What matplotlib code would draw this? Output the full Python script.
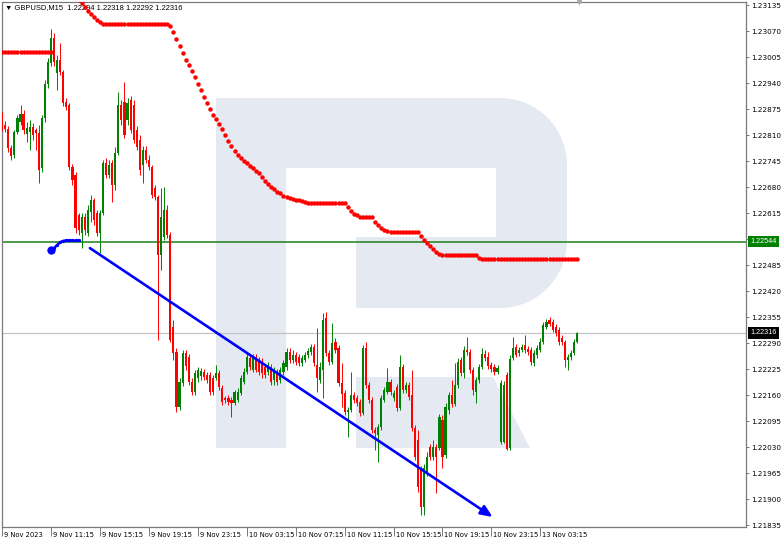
import matplotlib
matplotlib.use("Agg")
import matplotlib.pyplot as plt
import numpy as np
from matplotlib.path import Path
from matplotlib.patches import PathPatch, Polygon
import matplotlib.transforms as mtransforms

# ---------------- data ----------------
symbol = "GBPUSD,M15"

open_ = [
    1.22863, 1.22836, 1.22826, 1.22778, 1.22761, 1.22818, 1.22843, 1.22863, 1.22813, 1.22818,
    1.22831, 1.22823, 1.22816, 1.22728, 1.22853, 1.22938, 1.22991, 1.23053, 1.22966, 1.22998,
    1.22968, 1.22893, 1.22886, 1.22731, 1.22711, 1.22611, 1.22566, 1.22606, 1.22566, 1.22618,
    1.22648, 1.22616, 1.22566, 1.22616, 1.22741, 1.22711, 1.22741, 1.22686, 1.22766, 1.22886,
    1.22893, 1.22848, 1.22898, 1.22886, 1.22823, 1.22798, 1.22736, 1.22773, 1.22748, 1.22731,
    1.22678, 1.22656, 1.22511, 1.22556, 1.22623, 1.22561, 1.22331, 1.22268, 1.22131, 1.22191,
    1.22266, 1.22256, 1.22193, 1.22168, 1.22203, 1.22208, 1.22218, 1.22211, 1.22211, 1.22203,
    1.22203, 1.22216, 1.22178, 1.22153, 1.22153, 1.22148, 1.22141, 1.22148, 1.22166, 1.22193,
    1.22218, 1.22253, 1.22223, 1.22256, 1.22248, 1.22243, 1.22231, 1.22218, 1.22231, 1.22198,
    1.22218, 1.22198, 1.22218, 1.22231, 1.22268, 1.22248, 1.22261, 1.22256, 1.22241, 1.22248,
    1.22261, 1.22268, 1.22281, 1.22236, 1.22198, 1.22223, 1.22353, 1.22266, 1.22243, 1.22293,
    1.22278, 1.22191, 1.22166, 1.22118, 1.22123, 1.22161, 1.22153, 1.22143, 1.22116, 1.22278,
    1.22186, 1.22148, 1.22073, 1.22061, 1.22081, 1.22148, 1.22168, 1.22193, 1.22153, 1.22181,
    1.22128, 1.22231, 1.22173, 1.22186, 1.22161, 1.22078, 1.22048, 1.21973, 1.21881, 1.21966,
    1.22031, 1.22006, 1.22031, 1.22028, 1.22098, 1.22011, 1.22123, 1.22161, 1.22138, 1.22186,
    1.22248, 1.22216, 1.22273, 1.22268, 1.22223, 1.22168, 1.22198, 1.22231, 1.22263, 1.22256,
    1.22236, 1.22231, 1.22218, 1.22043, 1.22043, 1.22211, 1.22028, 1.22253, 1.22281, 1.22266,
    1.22273, 1.22286, 1.22276, 1.22273, 1.22241, 1.22261, 1.22273, 1.22293, 1.22331, 1.22348,
    1.22343, 1.22331, 1.22323, 1.22303, 1.22293, 1.22248, 1.22256, 1.22266, 1.22294,
]

high_ = [
    1.22868, 1.22846, 1.22833, 1.22786, 1.22823, 1.22861, 1.22886, 1.22873, 1.22843, 1.22848,
    1.22841, 1.22828, 1.22836, 1.22861, 1.22948, 1.23003, 1.23076, 1.23066, 1.23011, 1.23041,
    1.22973, 1.22903, 1.22891, 1.22738, 1.22718, 1.22616, 1.22616, 1.22616, 1.22636, 1.22661,
    1.22653, 1.22623, 1.22623, 1.22748, 1.22753, 1.22748, 1.22748, 1.22781, 1.22918, 1.22898,
    1.22943, 1.22903, 1.22908, 1.22898, 1.22833, 1.22811, 1.22783, 1.22783, 1.22761, 1.22736,
    1.22686, 1.22661, 1.22678, 1.22681, 1.22636, 1.22568, 1.22348, 1.22278, 1.22203, 1.22273,
    1.22273, 1.22263, 1.22203, 1.22223, 1.22231, 1.22228, 1.22226, 1.22218, 1.22218, 1.22211,
    1.22236, 1.22223, 1.22186, 1.22158, 1.22161, 1.22156, 1.22173, 1.22178, 1.22211, 1.22228,
    1.22268, 1.22261, 1.22263, 1.22263, 1.22256, 1.22253, 1.22238, 1.22243, 1.22238, 1.22231,
    1.22226, 1.22231, 1.22248, 1.22278, 1.22278, 1.22273, 1.22268, 1.22263, 1.22261, 1.22268,
    1.22278, 1.22288, 1.22288, 1.22328, 1.22243, 1.22366, 1.22368, 1.22273, 1.22341, 1.22303,
    1.22286, 1.22241, 1.22173, 1.22131, 1.22218, 1.22168, 1.22161, 1.22151, 1.22286, 1.22293,
    1.22193, 1.22156, 1.22081, 1.22088, 1.22161, 1.22181, 1.22228, 1.22201, 1.22173, 1.22188,
    1.22261, 1.22238, 1.22193, 1.22193, 1.22223, 1.22086, 1.22073, 1.21983, 1.21988, 1.22018,
    1.22038, 1.22048, 1.22038, 1.22113, 1.22111, 1.22141, 1.22168, 1.22198, 1.22241, 1.22253,
    1.22256, 1.22283, 1.22306, 1.22276, 1.22231, 1.22206, 1.22238, 1.22278, 1.22273, 1.22268,
    1.22243, 1.22238, 1.22236, 1.22198, 1.22196, 1.22218, 1.22261, 1.22306, 1.22288, 1.22281,
    1.22288, 1.22311, 1.22283, 1.22281, 1.22273, 1.22286, 1.22303, 1.22343, 1.22351, 1.22356,
    1.22351, 1.22338, 1.22331, 1.22311, 1.22298, 1.22263, 1.22273, 1.22301, 1.22318,
]

low_ = [
    1.22821, 1.22818, 1.22768, 1.22748, 1.22753, 1.22813, 1.22836, 1.22813, 1.22793, 1.22773,
    1.22798, 1.22773, 1.22691, 1.22718, 1.22843, 1.22928, 1.22983, 1.22983, 1.22923, 1.22961,
    1.22883, 1.22873, 1.22723, 1.22686, 1.22566, 1.22561, 1.22528, 1.22561, 1.22558, 1.22593,
    1.22586, 1.22558, 1.22516, 1.22611, 1.22703, 1.22703, 1.22643, 1.22673, 1.22761, 1.22836,
    1.22803, 1.22836, 1.22816, 1.22791, 1.22773, 1.22711, 1.22691, 1.22741, 1.22723, 1.22653,
    1.22648, 1.22298, 1.22473, 1.22548, 1.22553, 1.22293, 1.22248, 1.22118, 1.22123, 1.22183,
    1.22223, 1.22186, 1.22161, 1.22161, 1.22193, 1.22198, 1.22198, 1.22191, 1.22161, 1.22161,
    1.22198, 1.22173, 1.22136, 1.22141, 1.22136, 1.22106, 1.22136, 1.22143, 1.22161, 1.22188,
    1.22213, 1.22223, 1.22218, 1.22218, 1.22211, 1.22203, 1.22203, 1.22211, 1.22186, 1.22186,
    1.22186, 1.22191, 1.22211, 1.22223, 1.22241, 1.22241, 1.22236, 1.22233, 1.22233, 1.22243,
    1.22253, 1.22261, 1.22233, 1.22168, 1.22191, 1.22153, 1.22258, 1.22236, 1.22238, 1.22266,
    1.22183, 1.22131, 1.22111, 1.22056, 1.22118, 1.22141, 1.22133, 1.22108, 1.22111, 1.22178,
    1.22141, 1.22066, 1.22023, 1.21993, 1.22073, 1.22143, 1.22163, 1.22161, 1.22146, 1.22121,
    1.22123, 1.22166, 1.22166, 1.22148, 1.22071, 1.21998, 1.21918, 1.21861, 1.21861, 1.21958,
    1.21998, 1.21998, 1.21916, 1.22023, 1.21978, 1.22003, 1.22113, 1.22131, 1.22133, 1.22178,
    1.22208, 1.22203, 1.22261, 1.22216, 1.22161, 1.22141, 1.22191, 1.22226, 1.22246, 1.22226,
    1.22218, 1.22211, 1.22213, 1.22038, 1.22041, 1.22023, 1.22023, 1.22248, 1.22256, 1.22258,
    1.22268, 1.22266, 1.22261, 1.22236, 1.22233, 1.22253, 1.22268, 1.22288, 1.22326, 1.22333,
    1.22318, 1.22308, 1.22286, 1.22286, 1.22231, 1.22223, 1.22248, 1.22261, 1.22292,
]

close_ = [
    1.22828, 1.22826, 1.22778, 1.22758, 1.22818, 1.22853, 1.22863, 1.22823, 1.22828, 1.22831,
    1.22811, 1.22816, 1.22723, 1.22853, 1.22938, 1.22993, 1.23053, 1.22993, 1.22998, 1.22968,
    1.22891, 1.22881, 1.22731, 1.22698, 1.22578, 1.22573, 1.22606, 1.22573, 1.22623, 1.22648,
    1.22598, 1.22566, 1.22616, 1.22741, 1.22711, 1.22736, 1.22686, 1.22766, 1.22886, 1.22848,
    1.22811, 1.22891, 1.22823, 1.22798, 1.22781, 1.22723, 1.22773, 1.22748, 1.22731, 1.22661,
    1.22656, 1.22511, 1.22606, 1.22623, 1.22561, 1.22298, 1.22266, 1.22131, 1.22193, 1.22266,
    1.22233, 1.22193, 1.22168, 1.22216, 1.22223, 1.22221, 1.22206, 1.22198, 1.22168, 1.22168,
    1.22216, 1.22181, 1.22143, 1.22148, 1.22143, 1.22141, 1.22168, 1.22168, 1.22203, 1.22218,
    1.22256, 1.22231, 1.22256, 1.22223, 1.22218, 1.22216, 1.22211, 1.22236, 1.22193, 1.22223,
    1.22193, 1.22223, 1.22241, 1.22268, 1.22248, 1.22261, 1.22243, 1.22241, 1.22253, 1.22261,
    1.22271, 1.22281, 1.22241, 1.22203, 1.22231, 1.22348, 1.22266, 1.22243, 1.22291, 1.22273,
    1.22191, 1.22163, 1.22118, 1.22123, 1.22161, 1.22148, 1.22141, 1.22116, 1.22278, 1.22186,
    1.22148, 1.22073, 1.22066, 1.22081, 1.22153, 1.22173, 1.22193, 1.22168, 1.22166, 1.22128,
    1.22231, 1.22173, 1.22186, 1.22156, 1.22078, 1.22006, 1.21931, 1.21881, 1.21978, 1.22006,
    1.22006, 1.22031, 1.22006, 1.22106, 1.22006, 1.22131, 1.22161, 1.22138, 1.22186, 1.22243,
    1.22216, 1.22273, 1.22268, 1.22223, 1.22173, 1.22198, 1.22231, 1.22263, 1.22253, 1.22233,
    1.22226, 1.22218, 1.22228, 1.22191, 1.22186, 1.22026, 1.22251, 1.22278, 1.22261, 1.22273,
    1.22281, 1.22273, 1.22268, 1.22243, 1.22266, 1.22278, 1.22293, 1.22336, 1.22343, 1.22338,
    1.22323, 1.22316, 1.22293, 1.22293, 1.22248, 1.22256, 1.22266, 1.22293, 1.22316,
]

# red dotted indicator (one value per bar)
stop_dots = [
    1.23018, 1.23018, 1.23018, 1.23018, 1.23018, 1.23018, 1.23018, 1.23018, 1.23018, 1.23018,
    1.23018, 1.23018, 1.23018, 1.23018, 1.23018, 1.23018, 1.23018, 1.23260, 1.23243, 1.23225,
    1.23208, 1.23193, 1.23178, 1.23165, 1.23155, 1.23148, 1.23141, 1.23131, 1.23121, 1.23113,
    1.23106, 1.23098, 1.23093, 1.23088, 1.23088, 1.23088, 1.23088, 1.23088, 1.23088, 1.23088,
    1.23088, 1.23088, 1.23088, 1.23088, 1.23088, 1.23088, 1.23088, 1.23088, 1.23088, 1.23088,
    1.23088, 1.23088, 1.23088, 1.23088, 1.23088, 1.23083, 1.23068, 1.23051, 1.23033, 1.23016,
    1.22998, 1.22986, 1.22971, 1.22956, 1.22938, 1.22923, 1.22906, 1.22891, 1.22876, 1.22861,
    1.22851, 1.22838, 1.22826, 1.22811, 1.22796, 1.22783, 1.22771, 1.22761, 1.22753, 1.22746,
    1.22741, 1.22733, 1.22728, 1.22721, 1.22716, 1.22706, 1.22696, 1.22688, 1.22681, 1.22676,
    1.22668, 1.22666, 1.22658, 1.22656, 1.22653, 1.22651, 1.22648, 1.22648, 1.22646, 1.22643,
    1.22641, 1.22641, 1.22641, 1.22641, 1.22641, 1.22641, 1.22641, 1.22641, 1.22641, 1.22641,
    1.22641, 1.22641, 1.22641, 1.22631, 1.22621, 1.22613, 1.22611, 1.22606, 1.22606, 1.22606,
    1.22606, 1.22606, 1.22593, 1.22586, 1.22578, 1.22573, 1.22571, 1.22568, 1.22568, 1.22568,
    1.22568, 1.22568, 1.22568, 1.22568, 1.22568, 1.22568, 1.22568, 1.22558, 1.22548, 1.22541,
    1.22533, 1.22526, 1.22518, 1.22513, 1.22511, 1.22511, 1.22511, 1.22511, 1.22511, 1.22511,
    1.22511, 1.22511, 1.22511, 1.22511, 1.22511, 1.22511, 1.22503, 1.22501, 1.22501, 1.22501,
    1.22501, 1.22501, 1.22501, 1.22501, 1.22501, 1.22501, 1.22501, 1.22501, 1.22501, 1.22501,
    1.22501, 1.22501, 1.22501, 1.22501, 1.22501, 1.22501, 1.22501, 1.22501, 1.22501, 1.22501,
    1.22501, 1.22501, 1.22501, 1.22501, 1.22501, 1.22501, 1.22501, 1.22501, 1.22501,
]

# blue projection dots near the start
proj_bars = [17, 18, 19, 20, 21, 22, 23, 24, 25]
proj_price = [1.22528, 1.22536, 1.22543, 1.22546, 1.22547, 1.22547, 1.22547, 1.22547, 1.22547]
start_dot_bar = 16
start_dot_price = 1.22523

# blue trend line (bar index, price)
trend_bars = [28.7, 160.4]
trend_price = [1.22528, 1.21856]

level_green = 1.22544
level_last = 1.22316

time_ticks = [0, 16, 32, 48, 64, 80, 96, 112, 128, 144, 160, 176]
time_labels = ["9 Nov 2023", "9 Nov 11:15", "9 Nov 15:15", "9 Nov 19:15", "9 Nov 23:15",
               "10 Nov 03:15", "10 Nov 07:15", "10 Nov 11:15", "10 Nov 15:15",
               "10 Nov 19:15", "10 Nov 23:15", "13 Nov 03:15"]

price_ticks = [1.23135, 1.23070, 1.23005, 1.22940, 1.22875, 1.22810, 1.22745, 1.22680,
               1.22615, 1.22550, 1.22485, 1.22420, 1.22355, 1.22290, 1.22225, 1.22160,
               1.22095, 1.22030, 1.21965, 1.21900, 1.21835]

# ---------------- figure ----------------
W, H = 782, 546
fig = plt.figure(figsize=(W / 100, H / 100), dpi=100)
fig.patch.set_facecolor("white")
L, R, T, B = 2, 746, 2, 527
ax = fig.add_axes([L / W, (H - B) / H, (R - L) / W, (B - T) / H])
ax.set_facecolor("white")

FS = 5.2
FSX = 4.9
FONT = ["Liberation Sans", "DejaVu Sans"]
plt.rcParams["font.family"] = FONT

o = np.array(open_); h = np.array(high_); l = np.array(low_); c = np.array(close_)
x = np.arange(len(c))
ax.set_xlim(-0.05, 243.25)
ax.set_ylim(1.21831, 1.23143)

# watermark (pixel coordinates -> axes)
pix = mtransforms.Affine2D().scale(1 / (R - L), -1 / (B - T)).translate(-L / (R - L), B / (B - T)) + ax.transAxes
wm = "#e4e9f2"
verts = [(216, 98), (500, 98), (537, 98), (567, 128), (567, 165), (567, 240),
         (567, 278), (537, 308), (500, 308), (356, 308), (356, 237), (496, 237),
         (496, 168), (286, 168), (286, 448), (216, 448), (216, 98)]
codes = [Path.MOVETO, Path.LINETO, Path.CURVE4, Path.CURVE4, Path.CURVE4, Path.LINETO,
         Path.CURVE4, Path.CURVE4, Path.CURVE4, Path.LINETO, Path.LINETO, Path.LINETO,
         Path.LINETO, Path.LINETO, Path.LINETO, Path.LINETO, Path.CLOSEPOLY]
ax.add_patch(PathPatch(Path(verts, codes), facecolor=wm, edgecolor="none", transform=pix, zorder=0.5))
ax.add_patch(Polygon([(356, 377), (493, 377), (530, 448), (356, 448)], closed=True,
                     facecolor=wm, edgecolor="none", transform=pix, zorder=0.5))

# horizontal levels
ax.axhline(level_last, color="#c4c4c4", lw=0.9, zorder=1)
ax.axhline(level_green, color="#1a801a", lw=1.1, zorder=2)

# title
ax.text(3 / (R - L), (B - 8) / (B - T), "\u25bc " + symbol + "  " + "%.5f %.5f %.5f %.5f" % (o[-1], h[-1], l[-1], c[-1]),
        transform=ax.transAxes, fontsize=5.4, va="center", ha="left", color="black", zorder=1.5,
        family=FONT)

# candles
up = c >= o
cols = np.where(up, "#008000", "#ff0000")
ax.vlines(x, l, h, colors=cols, linewidth=0.7, zorder=3)
bottoms = np.minimum(o, c)
heights = np.maximum(np.abs(c - o), 0.00003)
ax.bar(x, heights, bottom=bottoms, width=0.7, color=cols, linewidth=0, zorder=4)

# red dots
ax.plot(x, stop_dots, linestyle="none", marker="o", ms=3.2, color="#ff0000", mec="none", zorder=5)

# blue projection
ax.plot(proj_bars, proj_price, color="#0000ff", lw=1.8, marker="o", ms=2.4, mec="none", zorder=5)
ax.plot([start_dot_bar], [start_dot_price], marker="o", ms=6, color="#0000ff", mec="none", zorder=6)

# trend line with arrow
ax.annotate("", xy=(trend_bars[1], trend_price[1]), xytext=(trend_bars[0], trend_price[0]),
            arrowprops=dict(arrowstyle="-|>,head_length=0.7,head_width=0.3", color="#0000ff",
                            lw=1.9, mutation_scale=10, shrinkA=0, shrinkB=0), zorder=6)

# shift marker at top
ax.plot([len(c) - 0.3], [ax.get_ylim()[1]], marker="v", ms=4, color="#a8a8a8", mec="none",
        clip_on=False, zorder=7)

# axes styling
for s in ax.spines.values():
    s.set_color("#7a7a7a")
    s.set_linewidth(0.9)

ax.yaxis.tick_right()
ax.set_yticks(price_ticks)
# the 1.22550 label is hidden under the green level box
ax.set_yticklabels(["" if abs(p - level_green) < 0.0002 else "%.5f" % p for p in price_ticks])
ax.tick_params(axis="y", direction="out", length=2.2, width=0.7, color="#7a7a7a", pad=1.2,
               labelsize=FS, labelcolor="black")

ax.set_xticks(time_ticks)
ax.set_xticklabels(time_labels)
ax.tick_params(axis="x", direction="out", length=6.5, width=0.7, color="#7a7a7a", pad=-3.0,
               labelsize=FSX, labelcolor="black")
shift = mtransforms.ScaledTranslation(2 / 100, 0, fig.dpi_scale_trans)
for lab in ax.get_xticklabels():
    lab.set_horizontalalignment("left")
    lab.set_transform(lab.get_transform() + shift)

# price boxes on the right axis
blend = mtransforms.blended_transform_factory(ax.transAxes, ax.transData)
ax.annotate("%.5f" % level_green, xy=(1, level_green), xycoords=blend, xytext=(4, 0),
            textcoords="offset pixels", va="center", ha="left", fontsize=FS, color="white",
            bbox=dict(boxstyle="square,pad=0.3", fc="#008000", ec="none"),
            annotation_clip=False, zorder=10)
ax.annotate("%.5f" % level_last, xy=(1, level_last), xycoords=blend, xytext=(4, 0),
            textcoords="offset pixels", va="center", ha="left", fontsize=FS, color="white",
            bbox=dict(boxstyle="square,pad=0.3", fc="black", ec="none"),
            annotation_clip=False, zorder=10)

fig.savefig("out.png", dpi=100, facecolor="white")
